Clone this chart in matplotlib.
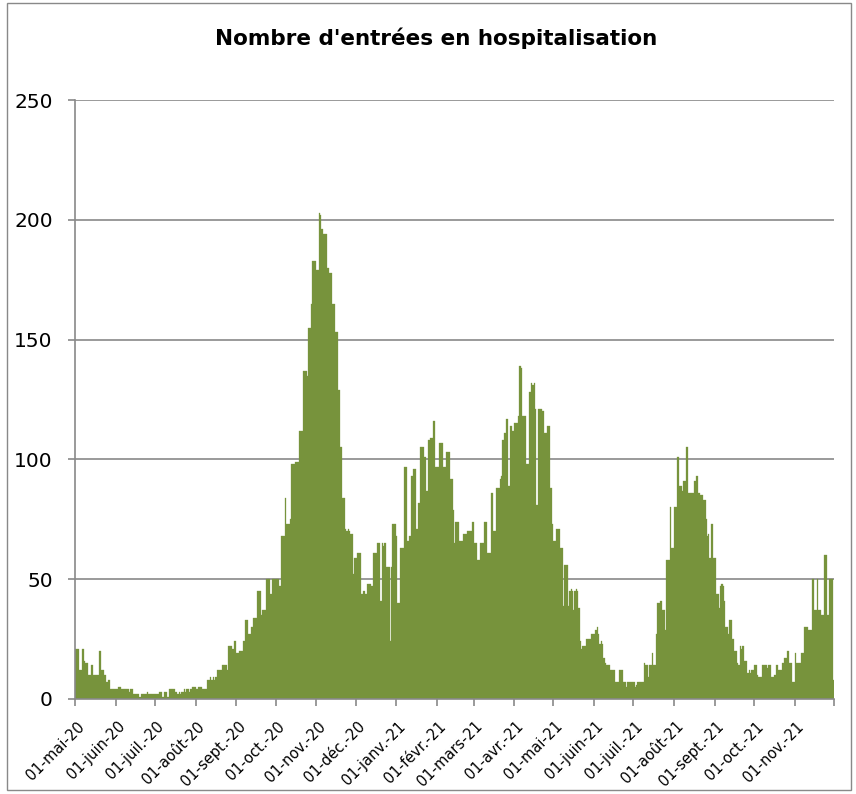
import matplotlib.pyplot as plt
import matplotlib.transforms as mtransforms
from matplotlib.patches import Rectangle
import numpy as np
import pandas as pd

# daily hospital admissions, one list per month
mai_20 = [21, 21, 21, 12, 12, 21, 21, 16, 15, 15, 10, 10, 14, 14, 10, 10, 10, 10, 20, 20,
          12, 12, 10, 10, 7, 8, 8, 4, 4, 4, 4]
juin_20 = [4, 4, 5, 5, 4, 4, 4, 4, 4, 4, 3, 4, 4, 2, 2, 2, 2, 2, 1, 2,
           2, 2, 2, 2, 3, 2, 2, 2, 2, 2]
juil_20 = [2, 2, 2, 3, 3, 1, 1, 3, 3, 1, 1, 4, 4, 4, 4, 3, 3, 2, 3, 2,
           3, 3, 4, 3, 4, 4, 3, 4, 5, 5, 5]
aout_20 = [4, 4, 5, 5, 5, 4, 4, 4, 4, 8, 8, 9, 8, 9, 8, 9, 12, 12, 12, 12,
           14, 14, 14, 14, 12, 22, 22, 22, 21, 24, 24]
sept_20 = [19, 19, 20, 20, 20, 24, 24, 33, 33, 27, 27, 30, 30, 34, 34, 34, 45, 45, 45, 35,
           37, 37, 37, 50, 50, 50, 44, 50, 50, 50]
oct_20 = [50, 50, 50, 47, 68, 68, 68, 84, 73, 73, 73, 75, 98, 98, 98, 99, 99, 99, 112, 112,
          112, 137, 137, 137, 135, 155, 155, 165, 183, 183, 183]
nov_20 = [179, 179, 203, 202, 196, 194, 194, 194, 180, 180, 178, 178, 165, 165, 153, 153, 153, 129, 105, 105,
          84, 84, 71, 70, 71, 70, 69, 69, 52, 59]
dec_20 = [59, 61, 61, 61, 44, 44, 45, 44, 44, 48, 48, 48, 47, 61, 61, 61, 65, 65, 65, 41,
          65, 64, 65, 55, 55, 55, 24, 55, 73, 73, 73]
janv_21 = [68, 40, 40, 63, 63, 63, 97, 97, 66, 66, 68, 93, 93, 96, 96, 71, 71, 82, 105, 105,
           105, 101, 101, 87, 108, 108, 109, 109, 116, 116, 97]
fevr_21 = [97, 97, 107, 107, 107, 97, 97, 103, 103, 103, 92, 92, 79, 65, 74, 74, 74, 66, 66, 66,
           69, 69, 69, 70, 70, 70, 70, 74]
mars_21 = [65, 65, 65, 58, 58, 65, 65, 65, 74, 74, 61, 61, 61, 86, 86, 70, 70, 88, 88, 88,
           92, 93, 108, 111, 111, 117, 89, 89, 114, 112, 112]
avr_21 = [115, 115, 115, 118, 139, 138, 118, 118, 118, 98, 98, 128, 128, 132, 131, 132, 121, 81, 121, 121,
          121, 120, 120, 111, 111, 114, 114, 88, 88, 73]
mai_21 = [66, 66, 71, 71, 71, 63, 63, 39, 56, 56, 56, 39, 45, 46, 45, 37, 45, 46, 45, 38,
          24, 21, 22, 22, 22, 25, 25, 25, 25, 27, 27]
juin_21 = [27, 29, 30, 27, 23, 24, 23, 17, 15, 14, 14, 14, 12, 12, 12, 12, 7, 7, 7, 12,
           12, 12, 7, 7, 5, 7, 7, 7, 7, 7]
juil_21 = [7, 5, 6, 7, 7, 7, 7, 7, 15, 14, 14, 9, 14, 14, 19, 14, 14, 27, 40, 40,
           41, 41, 37, 37, 29, 58, 58, 58, 80, 63, 63]
aout_21 = [80, 80, 101, 101, 89, 89, 87, 91, 91, 105, 105, 86, 86, 86, 86, 91, 91, 93, 86, 86,
           85, 85, 83, 83, 75, 68, 69, 59, 73, 73, 59]
sept_21 = [59, 44, 44, 38, 47, 48, 47, 41, 30, 30, 27, 33, 33, 25, 25, 20, 20, 15, 14, 22,
           21, 22, 16, 16, 16, 11, 12, 11, 12, 12]
oct_21 = [14, 14, 10, 9, 9, 9, 14, 14, 14, 14, 13, 14, 14, 9, 9, 10, 10, 14, 12, 12,
          12, 15, 15, 17, 17, 20, 20, 15, 15, 7, 7]
nov_21 = [19, 15, 15, 15, 15, 19, 19, 30, 30, 30, 29, 29, 29, 50, 50, 37, 37, 50, 37, 37,
          35, 35, 60, 60, 60, 35, 50, 50, 50, 8]

month_labels = ['01-mai-20', '01-juin-20', '01-juil.-20', '01-août-20', '01-sept.-20',
                '01-oct.-20', '01-nov.-20', '01-déc.-20', '01-janv.-21', '01-févr.-21',
                '01-mars-21', '01-avr.-21', '01-mai-21', '01-juin-21', '01-juil.-21',
                '01-août-21', '01-sept.-21', '01-oct.-21', '01-nov.-21']

values = (mai_20 + juin_20 + juil_20 + aout_20 + sept_20 + oct_20 + nov_20 + dec_20
          + janv_21 + fevr_21 + mars_21 + avr_21 + mai_21 + juin_21 + juil_21
          + aout_21 + sept_21 + oct_21 + nov_21)
dates = pd.date_range('2020-05-01', periods=len(values), freq='D')
month_starts = np.where(dates.day == 1)[0]

grey = '#898989'
plt.rcParams['font.family'] = 'DejaVu Sans'

fig = plt.figure(figsize=(8.56, 7.94), dpi=100)
ax = fig.add_axes([75 / 856, 1 - 699 / 794, (834 - 75) / 856, (699 - 100) / 794])

ax.bar(np.arange(len(values)), values, width=1.0, align='edge',
       color='#77933C', edgecolor='#77933C', linewidth=0.2, zorder=2)

ax.set_xlim(0, len(values))
ax.set_ylim(0, 250)
ax.set_yticks(range(0, 251, 50))
ax.yaxis.grid(True, color=grey, linewidth=1.2, zorder=1)
ax.set_axisbelow(True)

ax.set_xticks(list(month_starts) + [len(values)])
ax.set_xticklabels(month_labels + [''])

for side in ['top', 'right']:
    ax.spines[side].set_visible(False)
for side in ['left', 'bottom']:
    ax.spines[side].set_color(grey)
    ax.spines[side].set_linewidth(1.2)
    ax.spines[side].set_zorder(3)

ax.tick_params(axis='y', length=5, width=1.2, color=grey, labelsize=14.5, pad=11)
ax.tick_params(axis='x', length=5, width=1.2, color=grey, labelsize=10.5, pad=13)

offset = mtransforms.ScaledTranslation(0.07, 0, fig.dpi_scale_trans)
for lab in ax.get_xticklabels():
    lab.set_rotation(45)
    lab.set_ha('right')
    lab.set_va('center')
    lab.set_rotation_mode('anchor')
    lab.set_transform(lab.get_transform() + offset)

fig.text(0.509, 0.952, "Nombre d'entrées en hospitalisation", ha='center', va='center',
         fontsize=15.5, fontweight='bold')

# outer chart frame
fig.patches.append(Rectangle((7 / 856, 1 - 790 / 794), 844 / 856, 787 / 794, fill=False,
                             edgecolor=grey, linewidth=1, transform=fig.transFigure))

fig.savefig('out.png', dpi=100)
